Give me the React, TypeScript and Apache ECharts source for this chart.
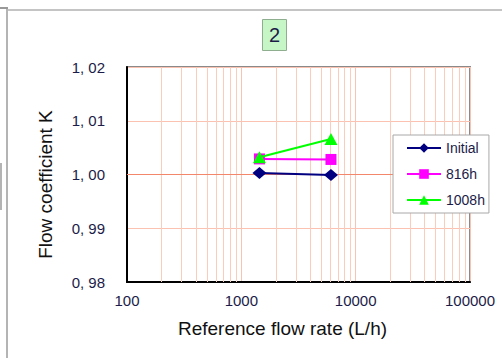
import React, { useEffect, useRef } from "react";
import * as echarts from "echarts";

// ---- data ----
const flowRates = [1440, 6080];
const initialK = [1.0003, 0.9999];
const k816h = [1.0029, 1.0028];
const k1008h = [1.0032, 1.0066];
const seriesNames = ["Initial", "816h", "1008h"];
const xTickValues = [100, 1000, 10000, 100000];
const minorGridX = [
  200, 300, 400, 500, 600, 700, 800, 900,
  2000, 3000, 4000, 5000, 6000, 7000, 8000, 9000,
  20000, 30000, 40000, 50000, 60000, 70000, 80000, 90000,
];
const yTickValues = [0.98, 0.99, 1.0, 1.01, 1.02];
const chartTitle = "2";
const xName = "Reference flow rate (L/h)";
const yName = "Flow coefficient K";

const FONT = "Liberation Sans";
const TEXT = "#1c1c48";

export default function App() {
  const ref = useRef<HTMLDivElement>(null);

  useEffect(() => {
    if (!ref.current) return;
    const chart = echarts.init(ref.current, undefined, { renderer: "svg" });
    const pair = (vals: number[]) => flowRates.map((x, i) => [x, vals[i]]);

    chart.setOption({
      animation: false,
      backgroundColor: "#ffffff",
      textStyle: { fontFamily: FONT },
      title: {
        text: chartTitle,
        left: 262,
        top: 19,
        padding: [6, 7],
        backgroundColor: "#c6f6c6",
        borderColor: "#8fae8f",
        borderWidth: 1,
        textStyle: { fontSize: 20, fontWeight: "normal", color: TEXT, fontFamily: FONT },
      },
      legend: {
        data: seriesNames,
        orient: "vertical",
        left: 393,
        top: 135,
        z: 20,
        itemWidth: 34,
        itemHeight: 12,
        itemGap: 12,
        padding: [6, 4, 6, 13],
        backgroundColor: "#ffffff",
        borderColor: "#a8a8a8",
        borderWidth: 1,
        borderRadius: 0,
        textStyle: { fontSize: 14, color: TEXT, fontFamily: FONT },
      },
      grid: {
        left: 127,
        right: 32,
        top: 67,
        bottom: 76,
        show: true,
        backgroundColor: "#ffffff",
        borderColor: "#8a8a8a",
        borderWidth: 2,
      },
      xAxis: {
        type: "log",
        logBase: 10,
        min: xTickValues[0],
        max: xTickValues[xTickValues.length - 1],
        name: xName,
        nameLocation: "middle",
        nameGap: 37,
        nameTextStyle: { fontSize: 19, color: "#111111", fontFamily: FONT, padding: [0, 32, 0, 0] },
        axisLine: { show: true, lineStyle: { color: "#000000", width: 2 } },
        axisTick: { show: false },
        axisLabel: {
          fontSize: 15,
          color: TEXT,
          margin: 11,
          fontFamily: FONT,
          formatter: (v: number) => String(Math.round(v)),
        },
        splitLine: { show: true, lineStyle: { color: "#fbc2b2", width: 1 } },
        minorSplitLine: { show: false },
      },
      yAxis: {
        type: "value",
        min: yTickValues[0],
        max: yTickValues[yTickValues.length - 1],
        interval: 0.01,
        name: yName,
        nameLocation: "middle",
        nameGap: 72,
        nameTextStyle: { fontSize: 19, color: "#111111", fontFamily: FONT, padding: [0, 20, 0, 0] },
        axisLine: { show: true, lineStyle: { color: "#000000", width: 2 } },
        axisTick: { show: false },
        axisLabel: {
          fontSize: 15,
          color: TEXT,
          margin: 22,
          fontFamily: FONT,
          formatter: (v: number) => v.toFixed(2).replace(".", ", "),
        },
        splitLine: { show: true, lineStyle: { color: "#fbc2b2", width: 1 } },
      },
      series: [
        {
          type: "line",
          name: "__grid",
          data: [],
          silent: true,
          z: 1,
          markLine: {
            silent: true,
            z: 1,
            symbol: ["none", "none"],
            label: { show: false },
            lineStyle: { color: "#fbcbbc", width: 1, type: "solid" },
            emphasis: { disabled: true },
            data: [
              ...minorGridX.map((v) => ({ xAxis: v })),
              { yAxis: 1.0, lineStyle: { color: "#f2876c", width: 1, type: "solid" } },
            ],
          },
        },
        {
          type: "line",
          name: seriesNames[0],
          data: pair(initialK),
          z: 3,
          color: "#000080",
          symbol: "diamond",
          symbolSize: [14, 12],
          lineStyle: { width: 2, color: "#000080" },
          itemStyle: { color: "#000080" },
        },
        {
          type: "line",
          name: seriesNames[1],
          data: pair(k816h),
          z: 3,
          color: "#ff00ff",
          symbol: "rect",
          symbolSize: 11,
          lineStyle: { width: 2, color: "#ff00ff" },
          itemStyle: { color: "#ff00ff" },
        },
        {
          type: "line",
          name: seriesNames[2],
          data: pair(k1008h),
          z: 4,
          color: "#00ff00",
          symbol: "triangle",
          symbolSize: [13, 12],
          lineStyle: { width: 2, color: "#00ff00" },
          itemStyle: { color: "#00ff00" },
        },
      ],
      graphic: [
        {
          type: "line",
          silent: true,
          shape: { x1: 7, y1: 10, x2: 502, y2: 10 },
          style: { stroke: "#c4c4c4", lineWidth: 2 },
        },
        {
          type: "line",
          silent: true,
          shape: { x1: 7, y1: 8, x2: 7, y2: 358 },
          style: { stroke: "#b4b4b4", lineWidth: 2 },
        },
        {
          type: "line",
          silent: true,
          shape: { x1: 0, y1: 8, x2: 8, y2: 8 },
          style: { stroke: "#999999", lineWidth: 2 },
        },
        {
          type: "line",
          silent: true,
          shape: { x1: 1, y1: 163, x2: 1, y2: 210 },
          style: { stroke: "#b4b4b4", lineWidth: 2 },
        },
      ],
    });

    return () => chart.dispose();
  }, []);

  return (
    <div
      ref={ref}
      style={{ position: "fixed", left: 0, top: 0, width: 502, height: 358 }}
    />
  );
}
